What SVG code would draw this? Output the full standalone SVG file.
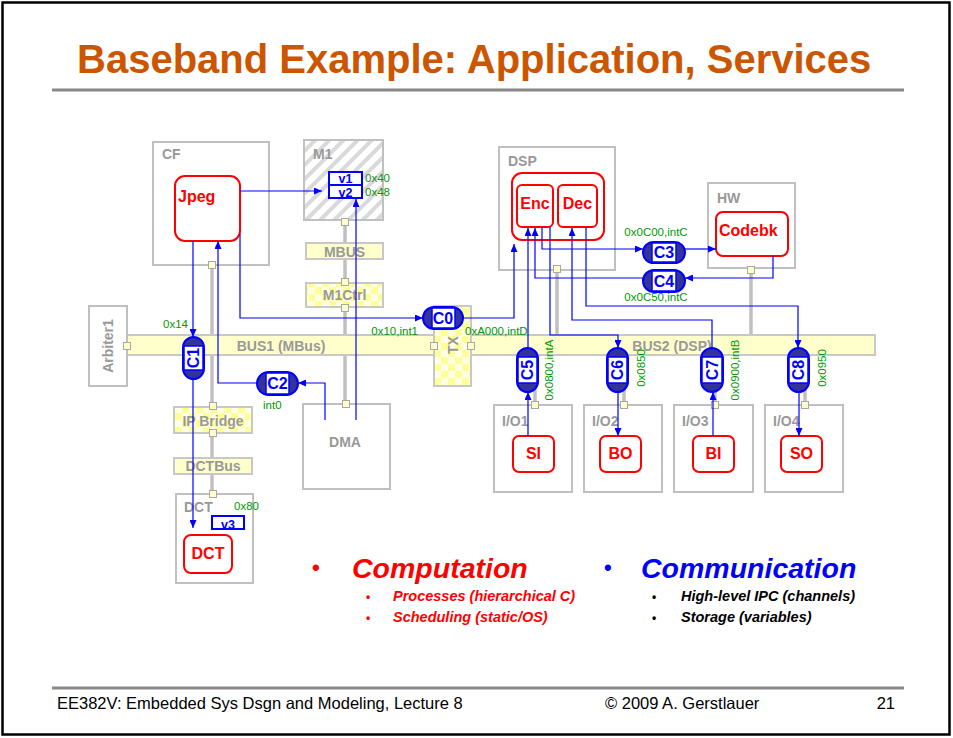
<svg xmlns="http://www.w3.org/2000/svg" width="953" height="738" viewBox="0 0 953 738">
<defs>
<style>
text{font-family:"Liberation Sans",Arial,sans-serif}
.box{fill:#fff;stroke:#C0C0C0;stroke-width:2}
.lbl{font-weight:bold;font-size:14px;fill:#999}
.proc{fill:#fff;stroke:#FF0000;stroke-width:2}
.ptxt{font-weight:bold;font-size:16px;fill:#FF0000}
.grn{font-size:11.5px;fill:#009900}
.wire{stroke:#C0C0C0;stroke-width:3.5;fill:none}
.sq{fill:#FFFFCC;stroke:#A8A8A8;stroke-width:1}
.bus{fill:#FFFFCC;stroke:#C8C8C8;stroke-width:2}
.conn{stroke:#0000FF;stroke-width:1.2;fill:none;marker-end:url(#ah)}
.cap{fill:#333399;stroke:#0000FF;stroke-width:2}
.capin{fill:#fff;stroke:#0000FF;stroke-width:1.5}
.ctxt{font-weight:bold;font-size:16px;fill:#0000FF}
.var{fill:#fff;stroke:#0000FF;stroke-width:2}
.vtxt{font-weight:bold;font-size:12.5px;fill:#0000FF}
</style>
<marker id="ah" markerWidth="8" markerHeight="7" refX="8" refY="3.5" orient="auto" markerUnits="userSpaceOnUse"><path d="M0,0 L8,3.5 L0,7 z" fill="#0000FF"/></marker>
<pattern id="chk" width="14" height="14" patternUnits="userSpaceOnUse"><rect width="14" height="14" fill="#FFFFE6"/><rect width="7" height="7" fill="#FFFF99"/><rect x="7" y="7" width="7" height="7" fill="#FFFF99"/></pattern>
<pattern id="hatch" width="10" height="10" patternUnits="userSpaceOnUse" patternTransform="rotate(45)"><rect width="10" height="10" fill="#fff"/><rect width="4" height="10" fill="#D9D9D9"/></pattern>
</defs>

<rect x="2.5" y="2.5" width="947" height="732" fill="#fff" stroke="#000" stroke-width="2.5"/>
<text x="77" y="73" font-size="40" font-weight="bold" fill="#CC5500">Baseband Example: Application, Services</text>
<line x1="52" y1="90" x2="904" y2="90" stroke="#888" stroke-width="3"/>
<line x1="52" y1="688" x2="904" y2="688" stroke="#888" stroke-width="3"/>
<text x="57" y="709" font-size="16.5" fill="#000">EE382V: Embedded Sys Dsgn and Modeling, Lecture 8</text>
<text x="605" y="709" font-size="16.5" fill="#000">© 2009 A. Gerstlauer</text>
<text x="895" y="709" font-size="16.5" fill="#000" text-anchor="end">21</text>

<g id="wires">
<line class="wire" x1="212" y1="265" x2="212" y2="494"/>
<line class="wire" x1="345" y1="222" x2="345" y2="404"/>
<line class="wire" x1="557" y1="269" x2="557" y2="336"/>
<line class="wire" x1="751" y1="270" x2="751" y2="336"/>
<line class="wire" x1="535" y1="354" x2="535" y2="405"/>
<line class="wire" x1="624" y1="354" x2="624" y2="405"/>
<line class="wire" x1="715" y1="354" x2="715" y2="405"/>
<line class="wire" x1="805" y1="354" x2="805" y2="405"/>
</g>

<g id="node-BUS1"><rect class="bus" x="127" y="335" width="320" height="20"/><text class="lbl" x="281" y="351" text-anchor="middle">BUS1 (MBus)</text></g>
<g id="node-BUS2"><rect class="bus" x="458" y="335" width="417" height="20"/><text class="lbl" x="672" y="351" text-anchor="middle">BUS2 (DSP)</text></g>

<g id="node-CF"><rect class="box" x="153" y="142" width="116" height="123"/><text class="lbl" x="162" y="159">CF</text></g>
<g id="node-Jpeg"><rect class="proc" x="175" y="176" width="65" height="65" rx="10"/><text class="ptxt" x="178" y="202" font-size="17">Jpeg</text></g>
<g id="node-M1"><rect x="304" y="140" width="79" height="80" fill="url(#hatch)" stroke="#C0C0C0" stroke-width="2"/><text class="lbl" x="313" y="159">M1</text></g>
<g id="node-v1v2"><rect class="var" x="329" y="172" width="33" height="26"/><line x1="329" y1="185" x2="362" y2="185" stroke="#0000FF" stroke-width="2"/><text class="vtxt" x="345.5" y="183" text-anchor="middle">v1</text><text class="vtxt" x="345.5" y="196.5" text-anchor="middle">v2</text><text class="grn" x="365" y="182">0x40</text><text class="grn" x="365" y="196">0x48</text></g>
<g id="node-MBUS"><rect class="bus" x="306" y="243" width="77" height="16"/><text class="lbl" x="344.5" y="257" text-anchor="middle">MBUS</text></g>
<g id="node-M1Ctrl"><rect x="306" y="283" width="77" height="24" fill="url(#chk)" stroke="#C8C8C8" stroke-width="2"/><text class="lbl" x="344.5" y="300" text-anchor="middle">M1Ctrl</text></g>
<g id="node-Arbiter1"><rect class="box" x="89" y="306" width="38" height="80"/><text class="lbl" transform="translate(113,346) rotate(-90)" text-anchor="middle" font-size="13">Arbiter1</text></g>
<g id="node-TX"><rect x="434" y="306" width="37" height="80" fill="url(#chk)" stroke="#C8C8C8" stroke-width="2"/><text class="lbl" transform="translate(458,345) rotate(-90)" text-anchor="middle">TX</text></g>
<g id="node-IPBridge"><rect x="174" y="407" width="78" height="26" fill="url(#chk)" stroke="#C8C8C8" stroke-width="2"/><text class="lbl" x="213" y="426" text-anchor="middle">IP Bridge</text></g>
<g id="node-DCTBus"><rect class="bus" x="174" y="458" width="78" height="16"/><text class="lbl" x="213" y="471" text-anchor="middle">DCTBus</text></g>
<g id="node-DCTbox"><rect class="box" x="176" y="494" width="77" height="89"/><text class="lbl" x="184" y="512">DCT</text><text class="grn" x="234" y="510">0x80</text></g>
<g id="node-v3"><rect class="var" x="212" y="516" width="32" height="13"/><text class="vtxt" x="228" y="528.5" text-anchor="middle">v3</text></g>
<g id="node-DCT"><rect class="proc" x="184" y="535" width="48" height="38" rx="7"/><text class="ptxt" x="208" y="559" text-anchor="middle">DCT</text></g>
<g id="node-DMA"><rect class="box" x="303" y="404" width="87" height="85"/><text class="lbl" x="345" y="447" text-anchor="middle">DMA</text></g>

<g id="node-DSP"><rect class="box" x="499" y="147" width="116" height="123"/><text class="lbl" x="508" y="166">DSP</text><rect class="proc" x="512" y="173" width="92" height="67" rx="10"/></g>
<g id="node-Enc"><rect class="proc" x="517" y="185" width="36" height="42" rx="5"/><text class="ptxt" x="535" y="209" text-anchor="middle">Enc</text></g>
<g id="node-Dec"><rect class="proc" x="558" y="185" width="39" height="42" rx="5"/><text class="ptxt" x="577.5" y="209" text-anchor="middle">Dec</text></g>
<g id="node-HW"><rect class="box" x="708" y="183" width="87" height="85"/><text class="lbl" x="717" y="203">HW</text></g>
<g id="node-Codebk"><rect class="proc" x="716" y="212" width="72" height="44" rx="7"/><text class="ptxt" x="719" y="236">Codebk</text></g>

<g id="node-IO1"><rect class="box" x="494" y="405" width="78" height="87"/><text class="lbl" x="502" y="426" font-size="13">I/O1</text></g>
<g id="node-IO2"><rect class="box" x="584" y="405" width="78" height="87"/><text class="lbl" x="592" y="426" font-size="13">I/O2</text></g>
<g id="node-IO3"><rect class="box" x="674" y="405" width="79" height="87"/><text class="lbl" x="682" y="426" font-size="13">I/O3</text></g>
<g id="node-IO4"><rect class="box" x="765" y="405" width="78" height="87"/><text class="lbl" x="773" y="426" font-size="13">I/O4</text></g>
<g id="node-SI"><rect class="proc" x="513" y="436" width="41" height="36" rx="6"/><text class="ptxt" x="533.5" y="459" text-anchor="middle">SI</text></g>
<g id="node-BO"><rect class="proc" x="600" y="436" width="41" height="36" rx="6"/><text class="ptxt" x="620.5" y="459" text-anchor="middle">BO</text></g>
<g id="node-BI"><rect class="proc" x="693" y="436" width="41" height="36" rx="6"/><text class="ptxt" x="713.5" y="459" text-anchor="middle">BI</text></g>
<g id="node-SO"><rect class="proc" x="781" y="436" width="41" height="36" rx="6"/><text class="ptxt" x="801.5" y="459" text-anchor="middle">SO</text></g>

<g id="ports">
<rect class="sq" x="208.5" y="261.5" width="7" height="7"/>
<rect class="sq" x="341.5" y="218.5" width="7" height="7"/>
<rect class="sq" x="341.5" y="278.5" width="7" height="7"/>
<rect class="sq" x="341.5" y="304.5" width="7" height="7"/>
<rect class="sq" x="342.5" y="400.5" width="7" height="7"/>
<rect class="sq" x="209.5" y="402.5" width="7" height="7"/>
<rect class="sq" x="209.5" y="429.5" width="7" height="7"/>
<rect class="sq" x="209.5" y="490.5" width="7" height="7"/>
<rect class="sq" x="123.5" y="342.5" width="7" height="7"/>
<rect class="sq" x="430.5" y="342.5" width="7" height="7"/>
<rect class="sq" x="467.5" y="342.5" width="7" height="7"/>
<rect class="sq" x="553.5" y="265.5" width="7" height="7" fill="#FFFF00"/>
<rect class="sq" x="747.5" y="266.5" width="7" height="7"/>
<rect class="sq" x="531.5" y="401.5" width="7" height="7"/>
<rect class="sq" x="620.5" y="401.5" width="7" height="7"/>
<rect class="sq" x="711.5" y="401.5" width="7" height="7"/>
<rect class="sq" x="801.5" y="401.5" width="7" height="7"/>
</g>

<g id="connectors">
<path class="conn" d="M240,191 H322"/>
<path class="conn" d="M193,241 V337"/>
<path class="conn" d="M193,379 V528"/>
<path class="conn" d="M257,383 H218 V241"/>
<path class="conn" d="M325,420 V383 H298"/>
<path class="conn" d="M356,420 V199"/>
<path class="conn" d="M240,234 V318 H423"/>
<path class="conn" d="M463,318 H514 V244"/>
<path class="conn" d="M528,348 V228"/>
<path class="conn" d="M542,227 V249 H643"/>
<path class="conn" d="M685,249 H716"/>
<path class="conn" d="M773,256 V278 H685"/>
<path class="conn" d="M643,278 H535 V228"/>
<path class="conn" d="M550,227 V335 H618 V348"/>
<path class="conn" d="M712,348 V320 H572 V228"/>
<path class="conn" d="M586,227 V306 H798 V348"/>
<path class="conn" d="M528,436 V392"/>
<path class="conn" d="M618,392 V436"/>
<path class="conn" d="M713,436 V392"/>
<path class="conn" d="M799,392 V436"/>
</g>

<g id="node-C0"><rect class="cap" x="423" y="307" width="40" height="22" rx="11"/><rect class="capin" x="432" y="308" width="23" height="20"/><text class="ctxt" x="443" y="324" text-anchor="middle">C0</text><text class="grn" x="418" y="335" text-anchor="end">0x10,int1</text><text class="grn" x="465" y="335">0xA000,intD</text></g>
<g id="node-C1"><rect class="cap" x="183" y="337" width="21" height="42" rx="10.5"/><rect class="capin" x="184" y="346" width="19" height="24"/><text class="ctxt" transform="translate(199,358) rotate(-90)" text-anchor="middle">C1</text><text class="grn" x="163" y="328">0x14</text></g>
<g id="node-C2"><rect class="cap" x="257" y="372" width="41" height="23" rx="11.5"/><rect class="capin" x="266" y="373" width="23" height="21"/><text class="ctxt" x="277.5" y="389" text-anchor="middle">C2</text><text class="grn" x="263" y="409">int0</text></g>
<g id="node-C3"><rect class="cap" x="643" y="242" width="42" height="21" rx="10.5"/><rect class="capin" x="652" y="243" width="24" height="19"/><text class="ctxt" x="664" y="258" text-anchor="middle">C3</text><text class="grn" x="656" y="236" text-anchor="middle">0x0C00,intC</text></g>
<g id="node-C4"><rect class="cap" x="643" y="270" width="42" height="22" rx="11"/><rect class="capin" x="652" y="271" width="24" height="20"/><text class="ctxt" x="664" y="287" text-anchor="middle">C4</text><text class="grn" x="656" y="301" text-anchor="middle">0x0C50,intC</text></g>
<g id="node-C5"><rect class="cap" x="517" y="348" width="21" height="44" rx="10.5"/><rect class="capin" x="518" y="357" width="19" height="26"/><text class="ctxt" transform="translate(533,370) rotate(-90)" text-anchor="middle">C5</text><text class="grn" transform="translate(553,370) rotate(-90)" text-anchor="middle">0x0800,intA</text></g>
<g id="node-C6"><rect class="cap" x="607" y="348" width="21" height="44" rx="10.5"/><rect class="capin" x="608" y="357" width="19" height="26"/><text class="ctxt" transform="translate(623,370) rotate(-90)" text-anchor="middle">C6</text><text class="grn" transform="translate(645,368) rotate(-90)" text-anchor="middle">0x0850</text></g>
<g id="node-C7"><rect class="cap" x="701" y="348" width="22" height="44" rx="11"/><rect class="capin" x="702" y="357" width="20" height="26"/><text class="ctxt" transform="translate(717.5,370) rotate(-90)" text-anchor="middle">C7</text><text class="grn" transform="translate(739,370) rotate(-90)" text-anchor="middle">0x0900,intB</text></g>
<g id="node-C8"><rect class="cap" x="788" y="348" width="21" height="44" rx="10.5"/><rect class="capin" x="789" y="357" width="19" height="26"/><text class="ctxt" transform="translate(804,370) rotate(-90)" text-anchor="middle">C8</text><text class="grn" transform="translate(826,368) rotate(-90)" text-anchor="middle">0x0950</text></g>

<g id="legend" font-weight="bold" font-style="italic">
<text x="312" y="575" font-size="22" fill="#FF0000" font-style="normal">•</text>
<text x="352" y="578" font-size="28.5" fill="#FF0000">Computation</text>
<text x="366" y="601" font-size="12" fill="#FF0000" font-style="normal">•</text>
<text x="393" y="601" font-size="14.5" fill="#FF0000">Processes (hierarchical C)</text>
<text x="366" y="622" font-size="12" fill="#FF0000" font-style="normal">•</text>
<text x="393" y="622" font-size="14.5" fill="#FF0000">Scheduling (static/OS)</text>
<text x="604" y="575" font-size="22" fill="#0000FF" font-style="normal">•</text>
<text x="641" y="578" font-size="28.5" fill="#0000FF">Communication</text>
<text x="652" y="601" font-size="12" fill="#000" font-style="normal">•</text>
<text x="681" y="601" font-size="14.5" fill="#000">High-level IPC (channels)</text>
<text x="652" y="622" font-size="12" fill="#000" font-style="normal">•</text>
<text x="681" y="622" font-size="14.5" fill="#000">Storage (variables)</text>
</g>
</svg>
